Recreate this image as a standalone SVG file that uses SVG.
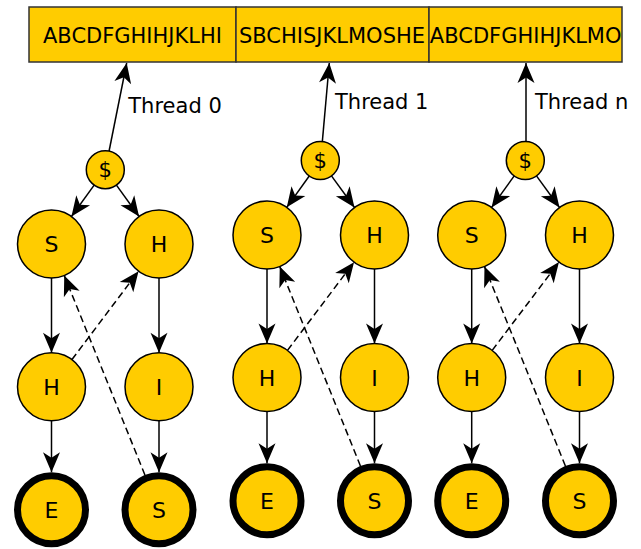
<svg xmlns="http://www.w3.org/2000/svg" width="641" height="549" viewBox="0 0 641 549">
<style>
.cell{fill:#FFCC00;stroke:#333;stroke-width:1.5}
.n{fill:#FFCC00;stroke:#000;stroke-width:1.5}
.f{fill:#FFCC00;stroke:#000;stroke-width:7}
.t{font-family:"DejaVu Sans",Verdana,sans-serif;font-size:22px;fill:#000;text-anchor:middle}
.d{font-size:21px}
.bt{font-family:"DejaVu Sans",Verdana,sans-serif;font-size:21px;fill:#000;text-anchor:middle}
.lb{font-family:"DejaVu Sans",Verdana,sans-serif;font-size:21px;fill:#000}
.e{stroke:#000;stroke-width:1.5;fill:none;marker-end:url(#ah)}
.dash{stroke-dasharray:7 4}
</style>
<defs>
<marker id="ah" viewBox="-21 -10 22 20" markerWidth="22" markerHeight="20" refX="0" refY="0" orient="auto" markerUnits="userSpaceOnUse">
<path d="M0,0 L-20,-8.5 L-14.5,0 L-20,8.5 Z" fill="#000"/>
</marker>
</defs>
<g id="buffer">
<rect class="cell" x="29" y="7" width="207" height="55"/>
<rect class="cell" x="236" y="7" width="193" height="55"/>
<rect class="cell" x="429" y="7" width="193" height="55"/>
<text class="bt" x="132.5" y="42.7">ABCDFGHIHJKLHI</text>
<text class="bt" x="332" y="42.7">SBCHISJKLMOSHE</text>
<text class="bt" x="525.7" y="42.7">ABCDFGHIHJKLMO</text>
</g>
<g id="labels">
<text class="lb" x="128.3" y="113.3">Thread 0</text>
<text class="lb" x="335" y="109.3">Thread 1</text>
<text class="lb" x="535" y="109.3">Thread n</text>
</g>
<g id="connectors">
<line class="e" x1="109.1" y1="151" x2="126.7" y2="63"/>
<line class="e" x1="94.16" y1="185.09" x2="71.44" y2="216.46"/>
<line class="e" x1="116.43" y1="185.1" x2="139.08" y2="216.44"/>
<line class="e" x1="51.5" y1="278" x2="51.5" y2="352.7"/>
<line class="e" x1="159" y1="278" x2="159" y2="352.7"/>
<line class="e" x1="51.5" y1="420.7" x2="51.5" y2="472.2"/>
<line class="e" x1="159" y1="420.7" x2="159" y2="472.2"/>
<line class="e dash" x1="71.96" y1="359.54" x2="138.54" y2="271.16"/>
<line class="e dash" x1="144.93" y1="474.94" x2="64.25" y2="275.52"/>

<line class="e" x1="322.3" y1="141.9" x2="329.3" y2="63"/>
<line class="e" x1="309.24" y1="175.95" x2="286.78" y2="207.35"/>
<line class="e" x1="331.48" y1="175.86" x2="354.5" y2="207.51"/>
<line class="e" x1="267" y1="269" x2="267" y2="343.5"/>
<line class="e" x1="374.5" y1="269" x2="374.5" y2="343.5"/>
<line class="e" x1="267" y1="411.5" x2="267" y2="463.2"/>
<line class="e" x1="374.5" y1="411.5" x2="374.5" y2="463.2"/>
<line class="e dash" x1="287.48" y1="350.36" x2="354.02" y2="262.14"/>
<line class="e dash" x1="360.43" y1="465.94" x2="279.75" y2="266.52"/>

<line class="e" x1="526" y1="141.8" x2="526" y2="63"/>
<line class="e" x1="514.2" y1="175.92" x2="491.56" y2="207.4"/>
<line class="e" x1="536.48" y1="175.86" x2="559.5" y2="207.51"/>
<line class="e" x1="471.7" y1="269" x2="471.7" y2="343.5"/>
<line class="e" x1="579.5" y1="269" x2="579.5" y2="343.5"/>
<line class="e" x1="471.7" y1="411.5" x2="471.7" y2="463.2"/>
<line class="e" x1="579.5" y1="411.5" x2="579.5" y2="463.2"/>
<line class="e dash" x1="492.21" y1="350.38" x2="558.99" y2="262.12"/>
<line class="e dash" x1="565.4" y1="465.95" x2="484.48" y2="266.51"/>
</g>
<g id="t0-root"><circle class="n" cx="105.3" cy="169.7" r="19"/><text class="t d" x="105.3" y="177">$</text></g>
<g id="t0-s1"><circle class="n" cx="51.5" cy="244" r="34"/><text class="t" x="51.5" y="252">S</text></g>
<g id="t0-h1"><circle class="n" cx="159" cy="244" r="34"/><text class="t" x="159" y="252">H</text></g>
<g id="t0-h2"><circle class="n" cx="51.5" cy="386.7" r="34"/><text class="t" x="51.5" y="394.7">H</text></g>
<g id="t0-i2"><circle class="n" cx="159" cy="386.7" r="34"/><text class="t" x="159" y="394.7">I</text></g>
<g id="t0-e3"><circle class="f" cx="51.5" cy="509.7" r="34"/><text class="t" x="51.5" y="517.7">E</text></g>
<g id="t0-s3"><circle class="f" cx="159" cy="509.7" r="34"/><text class="t" x="159" y="517.7">S</text></g>

<g id="t1-root"><circle class="n" cx="320.3" cy="160.5" r="19"/><text class="t d" x="320.3" y="167.8">$</text></g>
<g id="t1-s1"><circle class="n" cx="267" cy="235" r="34"/><text class="t" x="267" y="243">S</text></g>
<g id="t1-h1"><circle class="n" cx="374.5" cy="235" r="34"/><text class="t" x="374.5" y="243">H</text></g>
<g id="t1-h2"><circle class="n" cx="267" cy="377.5" r="34"/><text class="t" x="267" y="385.5">H</text></g>
<g id="t1-i2"><circle class="n" cx="374.5" cy="377.5" r="34"/><text class="t" x="374.5" y="385.5">I</text></g>
<g id="t1-e3"><circle class="f" cx="267" cy="500.7" r="34"/><text class="t" x="267" y="508.7">E</text></g>
<g id="t1-s3"><circle class="f" cx="374.5" cy="500.7" r="34"/><text class="t" x="374.5" y="508.7">S</text></g>

<g id="tn-root"><circle class="n" cx="525.3" cy="160.5" r="19"/><text class="t d" x="525.3" y="167.8">$</text></g>
<g id="tn-s1"><circle class="n" cx="471.7" cy="235" r="34"/><text class="t" x="471.7" y="243">S</text></g>
<g id="tn-h1"><circle class="n" cx="579.5" cy="235" r="34"/><text class="t" x="579.5" y="243">H</text></g>
<g id="tn-h2"><circle class="n" cx="471.7" cy="377.5" r="34"/><text class="t" x="471.7" y="385.5">H</text></g>
<g id="tn-i2"><circle class="n" cx="579.5" cy="377.5" r="34"/><text class="t" x="579.5" y="385.5">I</text></g>
<g id="tn-e3"><circle class="f" cx="471.7" cy="500.7" r="34"/><text class="t" x="471.7" y="508.7">E</text></g>
<g id="tn-s3"><circle class="f" cx="579.5" cy="500.7" r="34"/><text class="t" x="579.5" y="508.7">S</text></g>
</svg>
